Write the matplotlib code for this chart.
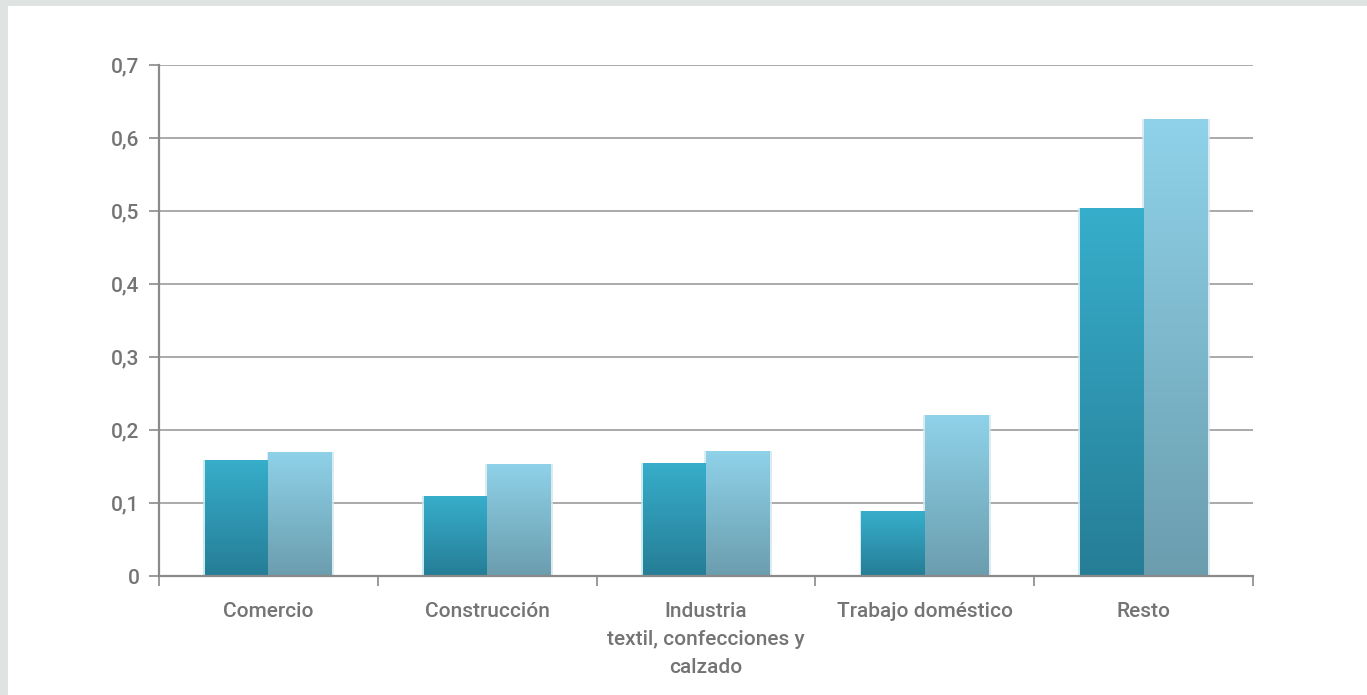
import numpy as np
import matplotlib
matplotlib.use("Agg")
import matplotlib.pyplot as plt
from matplotlib.patches import Rectangle
from matplotlib.colors import LinearSegmentedColormap

categories = ["Comercio", "Construcción", "Industria\ntextil, confecciones y\ncalzado",
              "Trabajo doméstico", "Resto"]
serie_a = [0.159, 0.109, 0.155, 0.089, 0.504]
serie_b = [0.170, 0.154, 0.171, 0.220, 0.626]
yticks = [0, 0.1, 0.2, 0.3, 0.4, 0.5, 0.6, 0.7]
ytick_labels = ["0", "0,1", "0,2", "0,3", "0,4", "0,5", "0,6", "0,7"]

TEXT = "#747474"
FS = 15
plt.rcParams["font.family"] = ["Roboto", "DejaVu Sans"]

fig = plt.figure(figsize=(13.67, 6.95), dpi=100)
fig.patch.set_facecolor("#dfe3e2")
# white panel inside the grey frame
fig.add_artist(Rectangle((8 / 1367, 0), 1, 1 - 6 / 695, transform=fig.transFigure,
                         facecolor="white", edgecolor="none", zorder=0))

ax = fig.add_axes([159 / 1367, 119 / 695, 1094 / 1367, 511 / 695])
ax.set_facecolor("none")

for y in yticks[1:]:
    ax.axhline(y, color="#9c9c9c", lw=1.2, zorder=1)

cmap_a = LinearSegmentedColormap.from_list("a", ["#267d96", "#37aecb"])
cmap_b = LinearSegmentedColormap.from_list("b", ["#6b9dae", "#8fd2e9"])

width = 0.29
grad = np.linspace(0, 1, 256).reshape(-1, 1)
for i, (va, vb) in enumerate(zip(serie_a, serie_b)):
    c = i + 0.5
    for x0, v, cmap, shadow in ((c - width, va, cmap_a, "#bfe6f0"),
                                 (c, vb, cmap_b, "#d3e6ec")):
        # soft halo around the bar
        halo = Rectangle((x0 - 0.008, 0), width + 0.02, v, facecolor=shadow,
                         edgecolor="none", alpha=0.8, zorder=2)
        ax.add_patch(halo)
        rect = Rectangle((x0, 0), width, v, facecolor="none", edgecolor="none", zorder=3)
        ax.add_patch(rect)
        im = ax.imshow(grad, cmap=cmap, aspect="auto", origin="lower",
                       extent=(x0, x0 + width, 0, v), zorder=3,
                       interpolation="bilinear")
        im.set_clip_path(rect)

ax.set_xlim(0, len(categories))
ax.set_ylim(0, 0.7)

for s in ("top", "right"):
    ax.spines[s].set_visible(False)
for s in ("left", "bottom"):
    ax.spines[s].set_color("#8a8a8a")
    ax.spines[s].set_linewidth(1.6)
    ax.spines[s].set_zorder(5)

ax.set_yticks(yticks)
ax.set_yticklabels(ytick_labels)
ax.tick_params(axis="y", length=7, width=1.2, color="#8a8a8a", pad=7,
               labelsize=FS, labelcolor=TEXT)
for lab in ax.get_yticklabels():
    lab.set_fontweight("medium")

ax.set_xticks(np.arange(len(categories) + 1))
ax.set_xticklabels([])
ax.tick_params(axis="x", length=7, width=1.2, color="#8a8a8a")
for i, lab in enumerate(categories):
    ax.text(i + 0.5, -0.035, lab, ha="center", va="top", fontsize=FS, color=TEXT,
            linespacing=1.62, fontweight="medium")

fig.savefig("out.png", dpi=100)
